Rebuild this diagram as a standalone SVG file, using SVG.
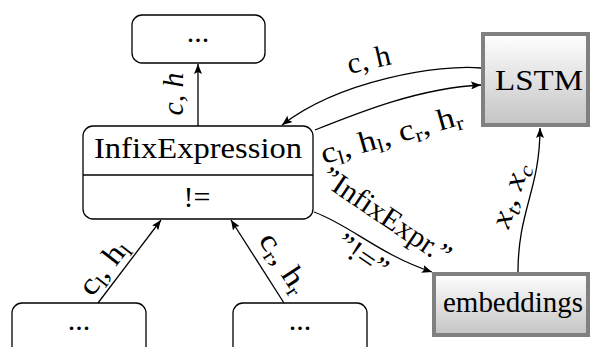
<svg xmlns="http://www.w3.org/2000/svg" width="594" height="347" viewBox="0 0 594 347">
<style>
.box{fill:#fff;stroke:#000;stroke-width:1.3}
.gbox{fill:url(#g);stroke:#808080;stroke-width:4}
.t{font-family:"Liberation Serif","DejaVu Serif",serif;font-size:30px;fill:#000}
.lbl{font-family:"Liberation Serif","DejaVu Serif",serif;font-size:30px;fill:#000}
.it{font-style:italic}
.sub{font-size:20px}
.c{fill:none;stroke:#000;stroke-width:1.3}
</style>
<defs>
<linearGradient id="g" x1="0" y1="0" x2="0" y2="1">
<stop offset="0" stop-color="#ffffff"/>
<stop offset="1" stop-color="#c4c4c4"/>
</linearGradient>
<marker id="ar" viewBox="0 0 10 8" refX="10" refY="4" markerWidth="10" markerHeight="8" markerUnits="userSpaceOnUse" orient="auto">
<path d="M0,0 L10,4 L0,8 L2,4 Z" fill="#000"/>
</marker>
</defs>
<g id="top">
<rect class="box" x="132" y="15" width="133" height="48" rx="10"/>
<text class="t" x="198" y="42" text-anchor="middle">...</text>
</g>
<g id="infix">
<rect class="box" x="83" y="126" width="230" height="93" rx="10"/>
<line class="c" x1="83" y1="175" x2="313" y2="175"/>
<text class="t" x="198" y="158" text-anchor="middle" textLength="208" lengthAdjust="spacingAndGlyphs">InfixExpression</text>
<text class="t" x="197" y="207" text-anchor="middle">!=</text>
</g>
<g id="lstm">
<rect class="gbox" x="483" y="34" width="105" height="91"/>
<text class="t" x="539" y="90" text-anchor="middle" textLength="88" lengthAdjust="spacingAndGlyphs">LSTM</text>
</g>
<g id="embeddings">
<rect class="gbox" x="434" y="274" width="154" height="61"/>
<text class="t" x="513" y="312" text-anchor="middle" textLength="140" lengthAdjust="spacingAndGlyphs">embeddings</text>
</g>
<g id="left">
<rect class="box" x="12" y="303" width="134" height="60" rx="10"/>
<text class="t" x="79" y="330" text-anchor="middle">...</text>
</g>
<g id="right">
<rect class="box" x="233" y="303" width="134" height="60" rx="10"/>
<text class="t" x="300" y="330" text-anchor="middle">...</text>
</g>
<g id="connectors">
<line class="c" x1="198" y1="126" x2="198" y2="64" marker-end="url(#ar)"/>
<path class="c" d="M481,68 C440,64 340,80 282,125" marker-end="url(#ar)"/>
<path class="c" d="M315,130 C360,112 420,88 481,85" marker-end="url(#ar)"/>
<path class="c" d="M314,212 C350,225 380,255 432,272" marker-end="url(#ar)"/>
<path class="c" d="M518,272 C518,210 540,190 540,128" marker-end="url(#ar)"/>
<line class="c" x1="98" y1="303" x2="161" y2="220" marker-end="url(#ar)"/>
<line class="c" x1="284" y1="303" x2="231" y2="220" marker-end="url(#ar)"/>
</g>
<g id="labels">
<text class="lbl it" transform="translate(183,94) rotate(-90)" text-anchor="middle" textLength="43" lengthAdjust="spacingAndGlyphs">c, h</text>
<text class="lbl" transform="translate(371,69) rotate(-13)" text-anchor="middle" textLength="44" lengthAdjust="spacingAndGlyphs">c, h</text>
<text class="lbl" transform="translate(394,144) rotate(-16)" text-anchor="middle" textLength="146" lengthAdjust="spacingAndGlyphs">c<tspan class="sub" dy="5">l</tspan><tspan dy="-5">, h</tspan><tspan class="sub" dy="5">l</tspan><tspan dy="-5">, c</tspan><tspan class="sub" dy="5">r</tspan><tspan dy="-5">, h</tspan><tspan class="sub" dy="5">r</tspan></text>
<text class="lbl it" transform="translate(519,198) rotate(-72)" text-anchor="middle" textLength="66" lengthAdjust="spacingAndGlyphs">x<tspan class="sub" dy="5">t</tspan><tspan dy="-5">, x</tspan><tspan class="sub" dy="5">c</tspan></text>
<text class="lbl" transform="translate(381,224) rotate(34)" text-anchor="middle" textLength="150" lengthAdjust="spacingAndGlyphs">”InfixExpr.”</text>
<text class="lbl" transform="translate(357,264) rotate(34)" text-anchor="middle" textLength="56" lengthAdjust="spacingAndGlyphs">”!=”</text>
<text class="lbl" transform="translate(111,273) rotate(-52)" text-anchor="middle" textLength="62" lengthAdjust="spacingAndGlyphs">c<tspan class="sub" dy="5">l</tspan><tspan dy="-5">, h</tspan><tspan class="sub" dy="5">l</tspan></text>
<text class="lbl" transform="translate(276,268) rotate(57)" text-anchor="middle" textLength="66" lengthAdjust="spacingAndGlyphs">c<tspan class="sub" dy="5">r</tspan><tspan dy="-5">, h</tspan><tspan class="sub" dy="5">r</tspan></text>
</g>
</svg>
